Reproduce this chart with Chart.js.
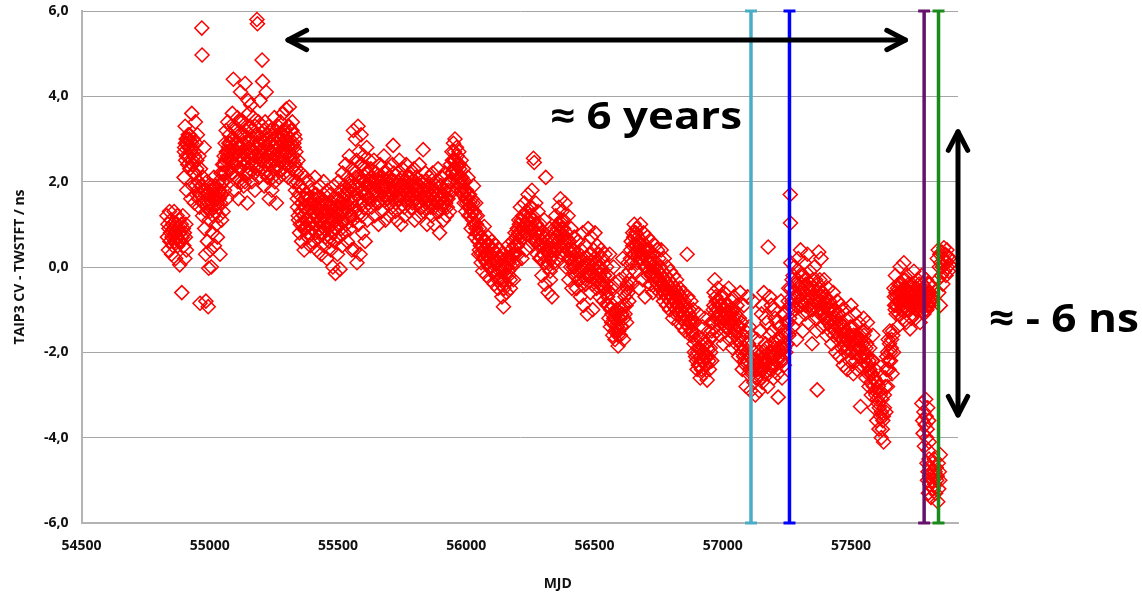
<!DOCTYPE html>
<html>
<head>
<meta charset="utf-8">
<script src="https://cdn.jsdelivr.net/npm/chart.js@4.4.0/dist/chart.umd.min.js"></script>
<style>
  html, body { margin: 0; padding: 0; background: #ffffff; }
  #wrap { width: 1142px; height: 593px; }
</style>
</head>
<body>
<div id="wrap"><canvas id="offsetChart" width="1142" height="593"></canvas></div>
<script>
// ---- DATA (MJD, TAIP3 CV - TWSTFT in ns) ----
const run2008 = [
  [54833,1.2],[54835,0.7],[54837,1.0],[54839,0.4],[54841,0.9],[54843,1.3],[54845,0.6],[54847,0.8],[54849,1.1],[54851,0.3],
  [54853,0.7],[54855,1.0],[54857,0.5],[54859,0.9],[54861,1.3],[54863,0.6],[54865,0.8],[54867,0.2],[54869,1.0],[54871,0.7],
  [54873,1.2],[54875,0.5],[54877,0.9],[54879,0.6],[54881,1.1],[54883,0.05],[54885,0.8],[54887,0.6],[54889,1.0],[54891,-0.6],
  [54893,0.7],[54895,1.2],[54897,0.9],[54899,0.5],[54901,0.8],[54903,0.2],[54905,0.7],[54907,1.0],[54909,0.4]
];
const run2009a = [
  [54900,2.1],[54902,2.8],[54904,3.3],[54906,2.5],[54908,3.0],[54910,1.8],[54912,2.9],[54914,2.4],[54916,3.1],[54918,2.6],
  [54920,3.0],[54922,2.3],[54924,2.95],[54926,1.6],[54928,2.8],[54930,3.6],[54932,2.4],[54934,1.9],[54936,3.0],[54938,2.7],
  [54940,1.5],[54942,2.2],[54944,3.4],[54946,2.9],[54948,1.7],[54950,2.5],[54952,3.1],[54954,2.0],[54956,1.6],[54958,2.6],
  [54960,1.4],[54962,-0.85],[54964,2.3],[54966,1.9],[54969,5.6],[54970,4.97],[54972,1.2],[54974,2.1],[54976,1.5],[54978,2.8],
  [54901,2.7],[54905,2.9],[54909,2.6],[54913,3.0],[54917,2.8],[54921,3.1],[54925,2.7],[54929,2.9],[54933,2.5],[54937,2.2],
  [54941,2.6],[54945,1.9],[54949,2.3],[54953,1.8],[54957,2.0],[54961,1.7]
];
const run2009b = [
  [54980,0.9],[54982,1.7],[54984,0.3],[54985,-0.8],[54987,1.3],[54989,2.0],[54991,0.6],[54993,1.5],[54994,-0.93],[54996,-0.03],
  [54998,1.1],[55000,1.8],[55002,0.4],[55004,1.4],[55006,0.0],[55008,1.9],[55010,0.8],[55012,1.6],[55014,1.2],[55016,2.1],
  [55018,0.5],[55020,1.7],[55022,1.3],[55024,1.9],[55026,1.0],[55028,1.6],[55030,0.7],[55032,1.4],[55034,2.0],[55036,1.2],
  [55038,1.8],[55040,0.3],[55042,1.5],[55044,2.2],[55046,1.1],[55048,1.7],[55050,2.4],[55052,1.3],[55054,2.0],
  [55056,2.6],[55058,1.8],[55060,2.9],[55062,2.2],[55064,3.2],[55066,1.6],[55068,2.7],[55070,3.4],[55072,2.3],[55074,2.9],
  [55076,3.1],[55078,2.5],
  [54981,1.5],[54985,1.8],[54989,1.4],[54993,1.7],[54997,1.6],[55001,1.3],[55005,1.7],[55009,1.5],[55013,1.8],[55017,1.4],
  [55021,1.6],[55025,1.8],[55029,1.5],[55033,1.7],[55037,1.6],[55041,1.9],[55045,1.7],[55049,2.0],[55053,2.2],[55057,2.4],
  [55061,2.5],[55065,2.7],[55069,2.6],[55073,2.8],[55077,2.7]
];
const run2009c = [
  [55080,2.9],[55082,3.3],[55084,2.2],[55086,2.6],[55088,3.6],[55090,2.8],[55092,4.4],[55094,2.4],[55096,3.0],[55098,1.8],
  [55100,2.7],[55102,3.2],[55104,2.1],[55106,2.5],[55108,3.5],[55110,2.9],[55112,1.6],[55114,2.3],[55116,3.1],[55118,2.6],
  [55120,4.1],[55122,2.8],[55124,2.0],[55126,3.4],[55128,2.5],[55130,2.9],[55132,1.9],[55134,2.4],[55136,3.0],[55138,4.3],
  [55140,2.7],[55142,2.2],[55144,3.3],[55146,1.5],[55148,2.6],[55150,3.9],[55152,3.6],[55154,2.8],[55156,2.3],[55158,3.0],
  [55160,3.8],[55162,2.5],[55164,2.0],[55166,3.2],[55168,2.7],[55170,3.5],[55172,2.9],[55174,2.2],[55176,1.8],[55178,2.6],
  [55180,3.1],[55182,2.4],[55184,5.8],[55186,5.7],[55188,2.9],[55190,3.4],[55192,2.1],[55194,2.7],[55196,3.9],[55198,2.5],
  [55081,2.5],[55085,3.0],[55089,2.2],[55093,2.7],[55097,3.3],[55101,2.4],[55105,2.9],[55109,2.0],[55113,2.8],[55117,3.4],
  [55121,2.3],[55125,2.7],[55129,3.1],[55133,2.5],[55137,2.0],[55141,3.2],[55145,2.6],[55149,2.9],[55153,2.2],[55157,3.3],
  [55161,2.7],[55165,2.4],[55169,3.0],[55173,2.6],[55177,3.3],[55181,2.8],[55185,2.3],[55189,3.1],[55193,2.6],[55197,2.9]
];
const run2010a = [
  [55200,3.0],[55202,2.3],[55204,4.85],[55206,4.35],[55208,2.6],[55210,3.2],[55212,1.9],[55214,2.8],[55216,3.4],[55218,2.4],
  [55220,4.1],[55222,2.7],[55224,3.0],[55226,2.1],[55228,2.5],[55230,3.3],[55232,1.6],[55234,2.9],[55236,2.2],[55238,2.7],
  [55240,3.1],[55242,1.8],[55244,2.5],[55246,3.0],[55248,2.3],[55250,2.8],[55252,3.5],[55254,2.0],[55256,2.6],[55258,3.2],
  [55260,1.5],[55262,2.4],[55264,2.9],[55266,3.3],[55268,2.6],[55270,2.1],[55272,3.0],[55274,2.7],[55276,3.4],[55278,2.3],
  [55280,2.9],[55282,3.1],[55284,2.5],[55286,3.6],[55288,2.8],[55290,2.2],[55292,3.2],[55294,2.6],[55296,3.0],[55298,3.7],
  [55300,2.4],[55302,2.9],[55304,3.3],[55306,2.1],[55308,2.7],[55310,3.75],[55312,3.0],[55314,2.5],[55316,3.2],[55318,2.8],
  [55320,2.3],[55322,3.4],[55324,2.6],[55326,2.0],[55328,2.9],[55330,3.1],[55332,2.4],[55334,1.8],[55336,2.7],[55338,2.2],
  [55201,2.7],[55205,3.3],[55209,2.5],[55213,2.9],[55217,2.2],[55221,3.1],[55225,2.6],[55229,2.9],[55233,2.4],[55237,3.2],
  [55241,2.7],[55245,2.1],[55249,3.0],[55253,2.6],[55257,2.9],[55261,2.3],[55265,3.1],[55269,2.8],[55273,2.5],[55277,3.0],
  [55281,2.6],[55285,3.2],[55289,2.7],[55293,2.9],[55297,2.4],[55301,3.1],[55305,2.8],[55309,3.3],[55313,2.6],[55317,2.9],
  [55321,3.2],[55325,2.5],[55329,2.8],[55333,3.0],[55337,2.3]
];
const run2010b = [
  [55340,2.0],[55342,1.4],[55344,2.5],[55346,1.1],[55348,1.7],[55350,0.8],[55352,1.9],[55354,1.3],[55356,2.2],[55358,0.6],
  [55360,1.5],[55362,1.0],[55364,1.8],[55366,1.2],[55368,0.4],[55370,1.6],[55372,2.1],[55374,0.9],[55376,1.4],[55378,1.1],
  [55380,1.7],[55382,0.7],[55384,1.3],[55386,2.0],[55388,1.0],[55390,1.5],[55392,0.5],[55394,1.2],[55396,1.8],[55398,0.9],
  [55400,1.4],[55402,1.1],[55404,0.6],[55406,1.6],[55408,1.3],[55410,2.1],[55412,0.8],[55414,1.2],[55416,1.7],[55418,0.4],
  [55420,1.0],[55422,1.5],[55424,0.7],[55426,1.3],[55428,1.9],[55430,0.9],[55432,1.4],[55434,0.3],[55436,1.1],[55438,1.6],
  [55440,0.8],[55442,1.2],[55444,2.0],[55446,0.5],[55448,1.0],[55450,1.5],[55452,0.7],[55454,1.3],[55456,0.2],[55458,1.1],
  [55460,1.8],[55462,0.9],[55464,1.4],[55466,0.6],[55468,1.2],[55470,1.7],[55472,0.4],[55474,1.0],[55476,1.5],[55478,0.8],
  [55480,0.0],[55482,1.3],[55484,1.9],[55486,0.6],[55488,1.1],[55490,-0.15],[55492,1.6],[55494,0.9],[55496,1.4],[55498,0.3],
  [55500,1.2],[55502,2.0],[55504,0.7],[55506,1.5],[55508,-0.05],[55510,1.0],[55512,1.8],[55514,1.3],[55516,0.5],[55518,2.2],
  [55520,1.1],[55522,1.6],[55524,0.8],[55526,1.9],[55528,1.4],[55530,2.4],[55532,1.0],[55534,1.7],[55536,0.6],[55538,2.1],
  [55540,1.3],[55542,1.8],[55544,2.6],[55546,1.2],[55548,0.9],[55550,2.0],[55552,1.5],[55554,0.4],[55556,2.3],[55558,1.1],
  [55341,1.6],[55345,1.2],[55349,1.9],[55353,1.0],[55357,1.5],[55361,1.8],[55365,0.9],[55369,1.4],[55373,1.1],[55377,1.7],
  [55381,1.3],[55385,0.8],[55389,1.6],[55393,1.2],[55397,1.5],[55401,0.9],[55405,1.3],[55409,1.7],[55413,1.0],[55417,1.4],
  [55421,1.2],[55425,1.6],[55429,1.1],[55433,0.8],[55437,1.5],[55441,1.3],[55445,1.7],[55449,0.9],[55453,1.2],[55457,1.5],
  [55461,1.0],[55465,1.3],[55469,0.7],[55473,1.4],[55477,1.1],[55481,1.6],[55485,1.2],[55489,0.9],[55493,1.3],[55497,1.0],
  [55501,1.6],[55505,1.2],[55509,1.4],[55513,0.9],[55517,1.5],[55521,1.3],[55525,1.7],[55529,1.1],[55533,1.5],[55537,1.8],
  [55541,1.4],[55545,1.9],[55549,1.6],[55553,1.2],[55557,1.8]
];
const run2011a = [
  [55560,3.2],[55562,1.6],[55564,0.4],[55566,2.2],[55568,3.0],[55570,1.3],[55572,2.5],[55574,0.1],[55576,1.9],[55578,3.3],
  [55580,1.0],[55582,2.7],[55584,1.5],[55586,0.3],[55588,2.1],[55590,3.1],[55592,1.2],[55594,2.4],[55596,0.8],[55598,1.8],
  [55600,2.6],[55602,1.4],[55604,2.0],[55606,0.6],[55608,2.3],[55610,1.7],[55612,2.8],[55614,1.1],[55616,1.9],[55618,2.2],
  [55620,1.5],[55622,2.5],
  [55625,1.9],[55628,2.3],[55631,1.4],[55634,2.0],[55637,1.7],[55640,2.5],[55643,1.2],[55646,1.8],[55649,2.2],[55652,1.5],
  [55655,2.0],[55658,1.0],[55661,1.7],[55664,2.4],[55667,1.9],[55670,1.3],[55673,2.1],[55676,1.6],[55679,2.6],[55682,1.8],
  [55685,1.1],[55688,2.0],[55691,1.5],[55694,2.3],[55697,1.7],[55700,1.2],[55703,2.1],[55706,1.9],[55709,1.4],[55712,2.4],
  [55715,2.85],[55718,1.6],[55721,2.0],[55724,1.3],[55727,1.8],[55730,1.1],[55733,2.2],[55736,1.7],[55739,2.5],[55742,1.4],
  [55745,1.0],[55748,1.9],[55751,2.3],[55754,1.6],[55757,2.0],[55760,1.2],[55763,1.8],[55766,2.4],[55769,1.5],[55772,2.1],
  [55775,1.7],[55778,1.3],[55781,2.2],[55784,1.9],[55787,1.4],[55790,2.0],[55793,1.6],[55796,2.3],[55799,1.1],[55802,1.8],
  [55805,2.1],[55808,1.5],[55811,1.9],[55814,1.2],[55817,2.4],[55820,1.7],[55823,1.4],[55826,2.0],[55829,1.6],[55832,2.75],
  [55835,1.3],[55838,1.8],[55841,2.2],[55844,1.5],[55847,1.0],[55850,1.9],[55853,1.6],[55856,2.1],
  [55561,1.9],[55565,1.4],[55569,2.1],[55573,1.7],[55577,1.2],[55581,2.0],[55585,1.6],[55589,2.4],[55593,1.8],[55597,1.5],
  [55601,2.0],[55605,1.7],[55609,2.2],[55613,1.9],[55617,1.6],[55621,2.0],[55626,1.6],[55630,2.1],[55634,1.8],[55638,1.5],
  [55642,2.0],[55646,2.2],[55650,1.7],[55654,1.9],[55658,1.5],[55662,2.1],[55666,1.8],[55670,2.0],[55674,1.6],[55678,1.9],
  [55682,2.2],[55686,1.7],[55690,1.9],[55694,1.6],[55698,2.1],[55702,1.8],[55706,1.5],[55710,2.0],[55714,1.7],[55718,2.2],
  [55722,1.8],[55726,1.5],[55730,1.9],[55734,2.0],[55738,1.6],[55742,1.9],[55746,1.7],[55750,2.1],[55754,1.8],[55758,1.4],
  [55762,1.9],[55766,1.7],[55770,2.0],[55774,1.6],[55778,1.8],[55782,2.1],[55786,1.7],[55790,1.5],[55794,1.9],[55798,1.7],
  [55802,2.0],[55806,1.6],[55810,1.8],[55814,1.5],[55818,1.9],[55822,1.7],[55826,1.4],[55830,1.8],[55834,1.6],[55838,2.0],
  [55842,1.7],[55846,1.4],[55850,1.8],[55854,1.5],[55858,1.7]
];
const run2012a = [
  [55860,1.4],[55863,1.9],[55866,1.2],[55869,2.2],[55872,1.6],[55875,1.0],[55878,1.8],[55881,2.0],[55884,1.3],[55887,1.7],
  [55890,2.3],[55893,1.5],[55896,0.8],[55899,1.9],[55902,1.4],[55905,2.1],[55908,1.6],[55911,1.1],[55914,1.8],[55917,2.2],
  [55920,1.5],[55923,1.2],[55926,1.9],[55929,1.6],[55932,2.0],[55935,1.3],[55938,2.4],[55941,1.8],[55944,2.7],[55947,2.2],
  [55950,2.9],[55953,2.5],[55956,3.0],[55959,2.3],[55962,2.8],[55965,2.6],[55968,2.0],[55971,2.7],[55974,2.4],[55977,1.9],
  [55980,2.5],[55983,2.1],[55986,1.7],[55989,2.3],[55992,1.5],[55995,2.0],[55998,1.3],[56001,1.8],[56004,1.6],[56007,2.1],
  [56010,1.2],[56013,1.7],[56016,1.4],[56019,0.9],[56022,1.6],[56025,1.1],[56028,1.9],[56031,1.3],[56034,0.7],[56037,1.5],
  [56040,1.0],[56043,1.2],
  [55862,1.7],[55866,1.5],[55870,1.8],[55874,1.4],[55878,1.6],[55882,1.9],[55886,1.5],[55890,1.7],[55894,1.3],[55898,1.6],
  [55902,1.9],[55906,1.5],[55910,1.7],[55914,1.4],[55918,1.8],[55922,1.6],[55926,1.4],[55930,1.8],[55934,1.7],[55938,2.0],
  [55942,2.2],[55946,2.5],[55950,2.3],[55954,2.7],[55958,2.5],[55962,2.2],[55966,2.4],[55970,2.1],[55974,2.3],[55978,2.0],
  [55982,1.8],[55986,2.0],[55990,1.7],[55994,1.8],[55998,1.6],[56002,1.5],[56006,1.7],[56010,1.4],[56014,1.5],[56018,1.2],
  [56022,1.3],[56026,1.5],[56030,1.0],[56034,1.2],[56038,0.9],[56042,0.8]
];
const run2012b = [
  [56046,0.8],[56049,0.3],[56052,0.9],[56055,0.5],[56058,0.1],[56061,0.7],[56064,-0.1],[56067,0.4],[56070,0.95],[56073,0.2],
  [56076,0.6],[56079,-0.2],[56082,0.3],[56085,0.7],[56088,0.0],[56091,0.5],[56094,-0.3],[56097,0.2],[56100,0.6],[56103,-0.1],
  [56106,0.4],[56109,-0.4],[56112,0.1],[56115,0.5],[56118,-0.2],[56121,0.3],[56124,-0.5],[56127,0.0],[56130,0.4],[56133,-0.3],
  [56136,0.2],[56139,-0.7],[56142,-0.1],[56145,-0.93],[56148,0.3],[56151,-0.4],[56154,0.1],[56157,-0.6],[56160,0.0],[56163,0.5],
  [56166,-0.2],[56169,0.2],[56172,-0.5],[56175,0.4],[56178,0.0],[56181,0.6],[56184,-0.3],[56187,0.3],[56190,0.8],[56193,0.1],
  [56196,0.5],
  [56199,0.9],[56202,0.3],[56205,1.1],[56208,0.6],[56211,1.4],[56214,0.8],[56217,0.2],[56220,1.2],[56223,0.7],[56226,1.5],
  [56229,1.0],[56232,0.4],[56235,1.3],[56238,0.8],[56241,1.7],[56244,1.1],[56247,0.5],[56250,1.4],[56253,0.9],[56256,1.8],
  [56259,1.2],[56262,2.55],[56265,2.45],[56268,0.6],[56271,1.5],[56274,1.0],[56277,0.3],
  [56047,0.6],[56051,0.4],[56055,0.7],[56059,0.3],[56063,0.5],[56067,0.2],[56071,0.6],[56075,0.3],[56079,0.1],[56083,0.5],
  [56087,0.2],[56091,0.0],[56095,0.3],[56099,0.1],[56103,0.4],[56107,-0.1],[56111,0.2],[56115,-0.2],[56119,0.1],[56123,-0.3],
  [56127,0.2],[56131,-0.1],[56135,-0.4],[56139,0.0],[56143,-0.3],[56147,-0.5],[56151,0.0],[56155,-0.2],[56159,0.2],[56163,-0.1],
  [56167,0.1],[56171,-0.3],[56175,0.2],[56179,0.3],[56183,0.1],[56187,0.5],[56191,0.3],[56195,0.7],[56199,0.5],[56203,0.8],
  [56207,1.0],[56211,0.7],[56215,1.1],[56219,0.9],[56223,1.2],[56227,0.8],[56231,1.0],[56235,1.3],[56239,1.1],[56243,0.9],
  [56247,1.2],[56251,1.0],[56255,1.4],[56259,0.9],[56263,1.1],[56267,0.8],[56271,1.0],[56275,0.6]
];
const run2013 = [
  [56280,1.3],[56283,0.7],[56286,0.2],[56289,1.0],[56292,0.5],[56295,-0.2],[56298,0.8],[56301,0.3],[56304,1.1],[56307,-0.4],
  [56310,2.1],[56313,0.6],[56316,0.0],[56319,-0.6],[56322,0.4],[56325,0.9],[56328,-0.3],[56331,0.2],[56334,-0.7],[56337,0.6],
  [56340,0.1],[56343,0.9],[56346,0.4],[56349,1.2],[56352,0.7],[56355,0.2],[56358,1.0],[56361,1.4],[56364,0.5],[56367,1.6],
  [56370,0.9],[56373,1.3],[56376,0.3],[56379,1.1],[56382,0.6],[56385,1.5],[56388,0.0],[56391,0.8],[56394,0.4],[56397,1.2],
  [56400,-0.3],[56403,0.6],[56406,0.2],[56409,0.9],[56412,-0.5],[56415,0.4],[56418,0.0],[56421,0.7],
  [56424,-0.2],[56427,0.3],[56430,-0.5],[56433,0.1],[56436,0.6],[56439,-0.3],[56442,0.2],[56445,-0.7],[56448,0.4],[56451,-0.1],
  [56454,0.8],[56457,-0.9],[56460,0.0],[56463,0.5],[56466,-0.4],[56469,0.2],[56472,-1.1],[56475,0.9],[56478,-0.2],[56481,0.3],
  [56484,-0.6],[56487,0.7],[56490,0.0],[56493,-1.0],[56496,0.4],[56499,-0.3],[56502,0.8],[56505,0.1],[56508,-0.5],[56511,0.5],
  [56514,-0.1],[56517,0.3],[56520,-0.7],[56523,0.0],[56526,0.4],[56529,-0.4],[56532,0.2],[56535,-0.8],[56538,-0.2],[56541,0.3],
  [56544,-0.5],[56547,0.0],
  [56550,-0.9],[56553,-0.2],[56556,-1.2],[56559,0.3],[56562,-1.4],[56565,-0.5],[56568,-1.1],[56571,-1.6],[56574,0.0],[56577,-1.3],
  [56580,-1.7],[56583,-0.4],[56586,-1.0],[56589,-1.5],[56592,-1.85],[56595,-1.2],[56598,-0.3],[56601,-1.6],[56604,-1.0],[56607,-1.4],
  [56610,0.2],[56613,-1.7],[56616,-0.6],[56619,-1.1],[56622,-0.2],[56625,-1.3],[56628,-0.5],[56631,0.1],[56634,-0.8],[56637,-0.3],
  [56279,0.8],[56283,0.5],[56287,0.9],[56291,0.2],[56295,0.6],[56299,0.3],[56303,0.7],[56307,0.1],[56311,0.4],[56315,0.5],
  [56319,0.1],[56323,0.3],[56327,-0.1],[56331,0.4],[56335,0.0],[56339,0.3],[56343,0.5],[56347,0.8],[56351,0.4],[56355,0.9],
  [56359,0.6],[56363,1.0],[56367,0.8],[56371,1.1],[56375,0.7],[56379,0.9],[56383,0.5],[56387,0.7],[56391,0.3],[56395,0.6],
  [56399,0.2],[56403,0.4],[56407,0.0],[56411,0.3],[56415,0.1],[56419,0.4],[56423,0.0],[56427,-0.2],[56431,0.2],[56435,-0.1],
  [56439,0.1],[56443,-0.3],[56447,0.0],[56451,-0.4],[56455,0.2],[56459,-0.2],[56463,0.0],[56467,-0.3],[56471,0.1],[56475,-0.1],
  [56479,0.3],[56483,-0.2],[56487,0.1],[56491,-0.4],[56495,0.0],[56499,0.2],[56503,-0.2],[56507,0.1],[56511,-0.3],[56515,0.0],
  [56519,-0.2],[56523,-0.4],[56527,-0.1],[56531,-0.3],[56535,-0.5],[56539,-0.2],[56543,-0.6],[56547,-0.4],[56551,-0.7],[56555,-0.9],
  [56559,-0.6],[56563,-1.0],[56567,-1.3],[56571,-0.9],[56575,-1.2],[56579,-1.5],[56583,-1.1],[56587,-1.4],[56591,-1.6],[56595,-1.5],
  [56599,-1.2],[56603,-1.4],[56607,-1.1],[56611,-0.9],[56615,-1.2],[56619,-0.7],[56623,-0.9],[56627,-0.4],[56631,-0.6],[56635,-0.1]
];
const run2014 = [
  [56640,0.2],[56643,0.6],[56646,-0.4],[56649,0.8],[56652,0.3],[56655,1.0],[56658,-0.1],[56661,0.5],[56664,0.9],[56667,0.1],
  [56670,0.7],[56673,-0.5],[56676,0.4],[56679,1.0],[56682,0.2],[56685,0.6],[56688,-0.3],[56691,0.8],[56694,0.3],[56697,-0.7],
  [56700,0.5],[56703,0.0],[56706,0.7],[56709,-0.2],[56712,0.4],[56715,0.1],[56718,-0.4],[56721,0.6],[56724,0.0],[56727,-0.6],
  [56730,0.3],[56733,-0.2],[56736,0.5],[56739,-0.5],[56742,0.1],[56745,0.4],
  [56748,-0.3],[56751,0.2],[56754,-0.6],[56757,0.0],[56760,0.4],[56763,-0.4],[56766,-0.1],[56769,-0.8],[56772,0.2],[56775,-0.5],
  [56778,-0.2],[56781,-0.9],[56784,0.0],[56787,-0.6],[56790,-0.3],[56793,-1.0],[56796,-0.1],[56799,-0.7],[56802,-0.4],[56805,-1.2],
  [56808,-0.2],[56811,-0.8],[56814,-0.5],[56817,-1.1],[56820,-0.3],[56823,-0.9],[56826,-0.6],[56829,-1.3],[56832,-0.5],[56835,-1.0],
  [56838,-0.7],[56841,-1.4],[56844,-0.6],[56847,-1.1],[56850,-0.8],[56853,-1.5],[56856,-0.9],[56859,-1.2],[56861,0.3],[56864,-0.7],
  [56867,-1.3],[56870,-1.0],[56873,-1.6],[56876,-0.8],[56879,-1.2],[56882,-1.5],[56885,-1.0],
  [56888,-1.8],[56891,-1.3],[56894,-2.1],[56897,-1.6],[56900,-2.4],[56903,-1.9],[56906,-1.1],[56909,-2.3],[56912,-2.6],[56915,-1.7],
  [56918,-2.2],[56921,-1.4],[56924,-2.5],[56927,-2.0],[56930,-1.2],[56933,-2.3],[56936,-1.8],[56939,-2.65],[56942,-2.1],[56945,-1.5],
  [56948,-2.4],[56951,-1.9],[56954,-1.3],[56957,-2.2],[56960,-1.6],
  [56641,0.4],[56645,0.1],[56649,0.5],[56653,0.7],[56657,0.3],[56661,0.8],[56665,0.5],[56669,0.3],[56673,0.6],[56677,0.2],
  [56681,0.5],[56685,0.3],[56689,0.1],[56693,0.4],[56697,0.0],[56701,0.2],[56705,0.4],[56709,0.1],[56713,-0.1],[56717,0.2],
  [56721,-0.2],[56725,0.1],[56729,-0.1],[56733,-0.3],[56737,0.0],[56741,-0.2],[56745,-0.4],[56749,-0.1],[56753,-0.3],[56757,-0.5],
  [56761,-0.2],[56765,-0.4],[56769,-0.6],[56773,-0.3],[56777,-0.5],[56781,-0.7],[56785,-0.4],[56789,-0.6],[56793,-0.8],[56797,-0.5],
  [56801,-0.7],[56805,-0.9],[56809,-0.6],[56813,-0.8],[56817,-1.0],[56821,-0.7],[56825,-0.9],[56829,-1.1],[56833,-0.8],[56837,-1.0],
  [56841,-1.2],[56845,-0.9],[56849,-1.1],[56853,-1.3],[56857,-1.0],[56861,-1.2],[56865,-1.4],[56869,-1.1],[56873,-1.3],[56877,-1.5],
  [56881,-1.3],[56885,-1.6],[56889,-2.0],[56893,-1.7],[56897,-2.2],[56901,-2.0],[56905,-2.3],[56909,-1.9],[56913,-2.1],[56917,-2.4],
  [56921,-2.0],[56925,-2.2],[56929,-1.8],[56933,-2.1],[56937,-2.3],[56941,-1.9],[56945,-2.2],[56949,-1.7],[56953,-2.0],[56957,-1.5],
  [56961,-1.3]
];
const run2015 = [
  [56963,-1.0],[56966,-0.6],[56969,-0.3],[56972,-1.2],[56975,-0.8],[56978,-1.5],[56981,-0.5],[56984,-1.1],[56987,-0.9],[56990,-1.6],
  [56993,-0.7],[56996,-1.3],[56999,-1.0],[57002,-1.8],[57005,-0.6],[57008,-1.2],[57011,-1.5],[57014,-0.9],[57017,-1.4],[57020,-1.1],
  [57023,-0.5],[57026,-1.7],[57029,-1.0],[57032,-1.3],[57035,-0.8],[57038,-1.9],[57041,-1.2],[57044,-0.7],[57047,-1.5],[57050,-1.1],
  [57053,-1.8],[57056,-0.9],[57059,-1.4],[57062,-2.1],[57065,-1.2],[57068,-0.6],
  [57070,-1.9],[57073,-1.3],[57076,-2.4],[57079,-1.7],[57082,-0.9],[57085,-2.2],[57088,-1.5],[57091,-2.8],[57094,-1.8],[57097,-0.7],
  [57100,-2.5],[57103,-1.4],[57106,-2.1],[57109,-2.9],[57112,-1.6],[57115,-2.4],[57118,-0.8],[57121,-2.7],[57124,-2.0],[57127,-3.0],
  [57130,-2.3],[57133,-1.7],[57136,-2.6],[57139,-2.1],[57142,-2.9],[57145,-1.5],[57148,-2.4],[57151,-1.1],[57154,-2.7],[57157,-2.0],
  [57160,-0.6],[57163,-2.5],[57166,-1.8],[57169,-2.2],[57172,-1.3],[57175,-2.8],[57177,0.47],[57180,-2.0],[57183,-1.6],[57186,-2.4],
  [57189,-0.9],[57192,-2.1],[57195,-1.5],[57198,-2.6],[57201,-1.9],[57204,-1.2],[57207,-2.3],[57210,-1.7],[57213,-2.5],[57216,-3.05],
  [57219,-2.0],[57222,-1.4],[57225,-2.2],[57228,-1.6],[57231,-2.6],[57234,-1.9],[57237,-1.1],[57240,-2.3],[57243,-1.5],[57246,-2.0],
  [57249,-1.3],[57252,-1.8],[57255,-0.8],[57258,-1.6],[57261,-1.2],
  [56965,-0.9],[56969,-1.1],[56973,-0.7],[56977,-1.0],[56981,-1.2],[56985,-0.8],[56989,-1.1],[56993,-1.3],[56997,-0.9],[57001,-1.2],
  [57005,-1.0],[57009,-1.4],[57013,-1.1],[57017,-1.3],[57021,-0.9],[57025,-1.2],[57029,-1.5],[57033,-1.1],[57037,-1.4],[57041,-1.0],
  [57045,-1.3],[57049,-1.6],[57053,-1.2],[57057,-1.5],[57061,-1.7],[57065,-1.4],[57069,-1.8],[57073,-2.0],[57077,-1.6],[57081,-2.1],
  [57085,-1.9],[57089,-2.3],[57093,-2.0],[57097,-2.2],[57101,-1.8],[57105,-2.4],[57109,-2.1],[57113,-2.5],[57117,-2.2],[57121,-2.0],
  [57125,-2.4],[57129,-2.6],[57133,-2.2],[57137,-2.4],[57141,-2.0],[57145,-2.3],[57149,-2.6],[57153,-2.2],[57157,-2.4],[57161,-2.1],
  [57165,-2.3],[57169,-1.9],[57173,-2.2],[57177,-2.5],[57181,-2.1],[57185,-2.3],[57189,-1.8],[57193,-2.0],[57197,-2.3],[57201,-2.1],
  [57205,-1.8],[57209,-2.0],[57213,-2.2],[57217,-1.9],[57221,-2.1],[57225,-1.7],[57229,-1.9],[57233,-2.2],[57237,-1.8],[57241,-1.9],
  [57245,-1.6],[57249,-1.8],[57253,-1.5],[57257,-1.3],[57261,-1.0],
  [57155,-0.9],[57167,-1.2],[57183,-0.7],[57199,-1.0],[57211,-1.3],[57227,-0.8],[57243,-1.1],[57257,-0.5]
];
const run2016 = [
  [57263,1.7],[57264,1.03],[57265,0.1],[57267,-0.9],[57270,-0.3],[57273,-1.4],[57276,-0.6],[57279,0.0],[57282,-1.0],[57285,-0.4],
  [57288,-1.7],[57291,-0.7],[57294,0.2],[57297,-1.2],[57300,-0.5],[57303,0.4],[57306,-0.9],[57309,-0.2],[57312,-1.5],[57315,-0.6],
  [57318,0.1],[57321,-1.1],[57324,-0.4],[57327,-0.8],[57330,0.3],[57333,-1.3],[57336,-0.5],[57339,-0.1],[57342,-1.0],[57345,-0.7],
  [57348,-1.8],[57351,-0.3],[57354,-0.9],[57357,0.0],[57360,-1.2],[57363,-0.6],
  [57366,-1.5],[57368,-2.88],[57371,-0.4],[57374,0.35],[57377,-0.8],[57380,-1.1],[57383,0.2],[57386,-0.6],[57389,-1.4],[57392,-0.9],
  [57395,-0.3],[57398,-1.2],[57401,-0.7],[57404,-1.6],[57407,-1.0],[57410,-0.5],[57413,-1.3],[57416,-0.8],
  [57419,-1.5],[57422,-0.9],[57425,-1.8],[57428,-1.2],[57431,-0.6],[57434,-1.6],[57437,-1.0],[57440,-2.0],[57443,-1.3],[57446,-0.8],
  [57449,-1.7],[57452,-1.1],[57455,-2.1],[57458,-1.4],[57461,-0.9],[57464,-1.9],[57467,-1.3],[57470,-2.3],[57473,-1.6],[57476,-1.0],
  [57479,-2.0],[57482,-1.5],[57485,-2.4],[57488,-1.7],[57491,-1.2],[57494,-2.2],[57497,-1.6],[57500,-0.9],[57503,-2.0],[57506,-1.4],
  [57509,-2.5],[57512,-1.8],[57515,-1.1],[57518,-2.2],[57521,-1.6],[57524,-2.4],[57527,-1.9],[57530,-1.3],[57533,-2.1],[57537,-3.27],
  [57540,-1.7],[57543,-2.3],[57546,-1.5],
  [57549,-1.2],[57552,-2.0],[57555,-1.5],[57558,-2.6],[57561,-1.8],[57564,-1.3],[57567,-2.3],[57570,-2.8],[57573,-1.9],[57576,-2.5],
  [57579,-3.0],[57582,-2.2],[57585,-1.6],[57588,-2.8],[57591,-3.3],[57594,-2.4],[57597,-3.0],[57600,-3.6],[57603,-2.7],[57606,-3.2],
  [57609,-3.8],[57612,-2.9],[57615,-3.5],[57618,-4.0],[57621,-3.1],[57624,-3.6],[57627,-4.1],[57630,-3.3],[57633,-2.6],[57636,-3.4],
  [57639,-2.1],[57642,-2.8],[57645,-1.7],[57648,-2.4],[57651,-1.5],[57654,-2.2],[57657,-1.9],[57660,-2.5],[57663,-1.6],[57666,-2.0],
  [57266,-0.5],[57270,-0.8],[57274,-0.2],[57278,-0.6],[57282,-0.4],[57286,-0.9],[57290,-0.3],[57294,-0.7],[57298,-0.1],[57302,-0.6],
  [57306,-0.4],[57310,-0.8],[57314,-0.2],[57318,-0.6],[57322,-0.9],[57326,-0.3],[57330,-0.7],[57334,-0.5],[57338,-0.9],[57342,-0.4],
  [57346,-0.6],[57350,-1.0],[57354,-0.5],[57358,-0.8],[57362,-0.3],[57366,-0.7],[57370,-1.0],[57374,-0.5],[57378,-0.3],[57382,-0.7],
  [57386,-1.0],[57390,-0.6],[57394,-1.1],[57398,-0.8],[57402,-1.2],[57406,-0.9],[57410,-1.3],[57414,-1.0],[57418,-1.2],[57422,-1.4],
  [57426,-1.1],[57430,-1.3],[57434,-1.0],[57438,-1.5],[57442,-1.2],[57446,-1.4],[57450,-1.1],[57454,-1.6],[57458,-1.3],[57462,-1.5],
  [57466,-1.7],[57470,-1.4],[57474,-1.8],[57478,-1.5],[57482,-1.7],[57486,-1.9],[57490,-1.6],[57494,-1.8],[57498,-1.4],[57502,-1.7],
  [57506,-2.0],[57510,-1.6],[57514,-1.9],[57518,-1.7],[57522,-2.0],[57526,-1.7],[57530,-1.9],[57534,-1.6],[57538,-1.9],[57542,-2.1],
  [57546,-1.8],[57550,-1.6],[57554,-2.2],[57558,-1.9],[57562,-2.1],[57566,-2.5],[57570,-2.2],[57574,-2.4],[57578,-2.7],[57582,-2.5],
  [57586,-2.2],[57590,-2.6],[57594,-2.9],[57598,-2.7],[57602,-3.1],[57606,-2.8],[57610,-3.3],[57614,-3.0],[57618,-3.4],[57622,-3.8],
  [57626,-3.5],[57630,-3.0],[57634,-2.8],[57638,-2.4],[57642,-2.0],[57646,-2.2],[57650,-1.8],[57654,-2.0],[57658,-1.7],[57662,-1.5]
];
const run2017 = [
  [57667,-0.5],[57670,-0.9],[57673,-0.2],[57676,-1.1],[57679,-0.7],
  [57682,-1.4],[57685,-0.4],[57688,-0.8],[57691,0.0],[57694,-1.0],[57697,-0.6],[57700,-1.2],[57703,-0.3],[57706,0.1],[57709,-0.9],
  [57712,-0.5],[57715,-1.3],[57718,-0.7],[57721,-0.2],[57724,-1.0],[57727,-0.6],[57730,-1.45],[57733,-0.8],[57736,-0.4],[57739,-1.1],
  [57742,-0.7],[57745,-0.1],[57748,-0.9],[57751,-1.2],[57754,-0.5],[57757,-0.8],[57760,-0.3],[57763,-1.0],[57766,-0.6],[57769,-1.3],
  [57772,-0.7],[57775,-0.2],[57778,-0.9],[57781,-0.5],[57784,-1.1],[57787,-0.6],[57790,-0.8],[57793,-0.3],[57796,-1.0],[57799,-0.7],
  [57802,-0.4],[57805,-0.9],[57808,-0.6],[57811,-0.8],
  [57669,-0.7],[57672,-1.0],[57675,-0.6],[57678,-0.9],[57681,-0.5],[57684,-0.8],[57687,-1.1],[57690,-0.6],[57693,-0.4],[57696,-0.9],
  [57699,-0.7],[57702,-1.0],[57705,-0.5],[57708,-0.8],[57711,-0.3],[57714,-0.7],[57717,-1.0],[57720,-0.6],[57723,-0.8],[57726,-0.4],
  [57729,-0.9],[57732,-0.6],[57735,-1.2],[57738,-0.7],[57741,-0.5],[57744,-0.9],[57747,-0.6],[57750,-0.8],[57753,-1.0],[57756,-0.5],
  [57759,-0.7],[57762,-0.9],[57765,-0.4],[57768,-0.8],[57771,-0.6],[57774,-1.0],[57777,-0.7],[57780,-0.4],[57783,-0.8],[57786,-0.6],
  [57789,-1.0],[57792,-0.5],[57795,-0.7],[57798,-0.9],[57801,-0.6],[57804,-0.8],[57807,-0.4],[57810,-0.7]
];
const stepColumn = [
  [57776,-3.2],[57779,-3.6],[57781,-3.9],[57784,-3.4],[57786,-4.2],[57789,-3.7],[57791,-3.1],[57793,-3.5],[57795,-4.0],[57797,-3.8],
  [57799,-3.3],[57801,-4.3],[57803,-3.6],[57805,-4.1]
];
const lowCluster = [
  [57796,-4.6],[57798,-5.0],[57800,-4.8],[57802,-5.3],[57804,-4.5],[57806,-4.9],[57808,-5.1],[57810,-4.7],[57812,-5.4],[57814,-4.8],
  [57816,-5.0],[57818,-4.6],[57820,-5.2],[57822,-4.9],[57824,-4.5],[57826,-5.1],[57828,-4.8],[57830,-5.3],[57832,-4.7],[57834,-5.0],
  [57836,-4.9],[57838,-5.5],[57840,-4.6],[57842,-5.2],[57844,-4.8],[57846,-5.0],[57848,-4.4]
];
const lastCluster = [
  [57836,0.2],[57838,-0.3],[57840,0.4],[57842,-0.6],[57844,0.0],[57846,0.3],[57848,-0.9],[57850,0.1],[57852,-0.2],[57854,0.35],
  [57856,0.0],[57858,-0.4],[57860,0.2],[57862,0.45],[57864,-0.1],[57866,0.15],[57868,0.3],[57870,-0.2],[57872,0.1],[57874,0.4],
  [57876,0.0],[57878,0.25],[57880,-0.1],[57882,0.2],[57884,0.05]
];

// event markers (MJD) drawn as vertical bars
const eventMjd = [57110, 57260, 57785, 57841];
const eventColors = ['#4bacc6', '#0000ff', '#66116a', '#1a8a1a'];

const xTicks = [54500, 55000, 55500, 56000, 56500, 57000, 57500];
const yTicks = [-6, -4, -2, 0, 2, 4, 6];

const allRuns = [run2008, run2009a, run2009b, run2009c, run2010a, run2010b, run2011a, run2012a,
    run2012b, run2013, run2014, run2015, run2016, run2017, stepColumn, lowCluster, lastCluster];
const points = allRuns.flat().map(p => ({ x: p[0], y: p[1] }));

// ---- ANNOTATIONS (arrows, big labels, x axis title) ----
const annotatePlugin = {
    id: 'annotate',
    afterDatasetsDraw(chart) {
        const { ctx, chartArea, scales: { x, y } } = chart;
        ctx.save();
        ctx.strokeStyle = '#000';
        ctx.fillStyle = '#000';
        ctx.lineWidth = 5;
        ctx.lineCap = 'round';
        ctx.lineJoin = 'round';

        // span of ~6 years
        const yy = y.getPixelForValue(5.32);
        drawDoubleArrow(ctx, x.getPixelForValue(55305), yy, x.getPixelForValue(57712), yy);

        // step of ~ -6 ns, on the right border of the plot
        const xx = chartArea.right;
        drawDoubleArrow(ctx, xx, y.getPixelForValue(3.17), xx, y.getPixelForValue(-3.47));

        ctx.font = 'bold 37px "Open Sans"';
        stretchedText(ctx, '≈ 6 years', x.getPixelForValue(56701), y.getPixelForValue(3.23), 192);
        ctx.font = 'bold 40px "Open Sans"';
        stretchedText(ctx, '≈ - 6 ns', chartArea.right + 106, y.getPixelForValue(-1.52), 150);

        // x axis title, sits a bit right of the plot centre in the original
        ctx.font = 'bold 14px "Open Sans"';
        ctx.fillStyle = '#111';
        ctx.textAlign = 'center';
        ctx.textBaseline = 'middle';
        ctx.fillText('MJD', (chartArea.left + chartArea.right) / 2 + 38, chart.height - 9);
        ctx.restore();
    }
};

function drawDoubleArrow(ctx, x1, y1, x2, y2) {
    const ang = Math.atan2(y2 - y1, x2 - x1);
    ctx.beginPath();
    ctx.moveTo(x1, y1);
    ctx.lineTo(x2, y2);
    ctx.stroke();
    arrowHead(ctx, x2, y2, ang);
    arrowHead(ctx, x1, y1, ang + Math.PI);
}

function arrowHead(ctx, x, y, ang) {
    const len = 21, spread = 0.48;
    ctx.beginPath();
    ctx.moveTo(x - len * Math.cos(ang - spread), y - len * Math.sin(ang - spread));
    ctx.lineTo(x, y);
    ctx.lineTo(x - len * Math.cos(ang + spread), y - len * Math.sin(ang + spread));
    ctx.stroke();
}

function stretchedText(ctx, text, cx, baseline, width) {
    const w = ctx.measureText(text).width;
    ctx.save();
    ctx.translate(cx, baseline);
    ctx.scale(width / w, 1);
    ctx.textAlign = 'center';
    ctx.textBaseline = 'alphabetic';
    ctx.fillText(text, 0, 0);
    ctx.restore();
}

// ---- CHART ----
const eventDatasets = eventMjd.map((m, i) => ({
    type: 'line',
    data: [{ x: m, y: -6 }, { x: m, y: 6 }],
    borderColor: eventColors[i],
    borderWidth: 3.5,
    pointStyle: 'line',
    pointRadius: 6,
    pointBorderWidth: 3,
    pointBorderColor: eventColors[i],
    clip: false,
    order: 0
}));

const tickFont = { family: '"Open Sans"', size: 14, weight: 'bold' };

new Chart(document.getElementById('offsetChart'), {
    type: 'scatter',
    data: {
        datasets: [
            ...eventDatasets,
            {
                label: 'TAIP3 CV - TWSTFT',
                data: points,
                pointStyle: 'rectRot',
                pointRadius: 7,
                borderColor: '#ff0000',
                borderWidth: 1.5,
                backgroundColor: 'rgba(0,0,0,0)',
                order: 1
            }
        ]
    },
    options: {
        responsive: false,
        animation: false,
        layout: { padding: { top: 11, right: 184, bottom: 0, left: 0 } },
        plugins: {
            legend: { display: false },
            tooltip: { enabled: false }
        },
        scales: {
            x: {
                type: 'linear',
                min: 54500,
                max: 57917,
                afterBuildTicks: s => { s.ticks = xTicks.map(v => ({ value: v })); },
                afterFit: s => { s.height = 70; },
                grid: { display: false, drawTicks: false },
                border: { display: true, color: '#b4b4b4', width: 2 },
                ticks: {
                    autoSkip: false,
                    maxRotation: 0,
                    padding: 15,
                    color: '#111',
                    font: tickFont,
                    callback: v => String(v)
                },
                title: { display: false }
            },
            y: {
                min: -6,
                max: 6,
                afterBuildTicks: s => { s.ticks = yTicks.map(v => ({ value: v })); },
                afterFit: s => { s.width = 81.5; s.paddingTop = 0; s.paddingBottom = 0; },
                grid: { color: '#a6a6a6', lineWidth: 1, drawTicks: false },
                border: { display: true, color: '#b4b4b4', width: 2 },
                ticks: {
                    padding: 13,
                    color: '#111',
                    font: tickFont,
                    callback: v => v.toFixed(1).replace('.', ',')
                },
                title: {
                    display: true,
                    text: 'TAIP3 CV - TWSTFT / ns',
                    color: '#111',
                    font: { family: '"Open Sans"', size: 14, weight: 'bold' },
                    padding: { top: 12, bottom: 12 }
                }
            }
        }
    },
    plugins: [annotatePlugin]
});
</script>
</body>
</html>
